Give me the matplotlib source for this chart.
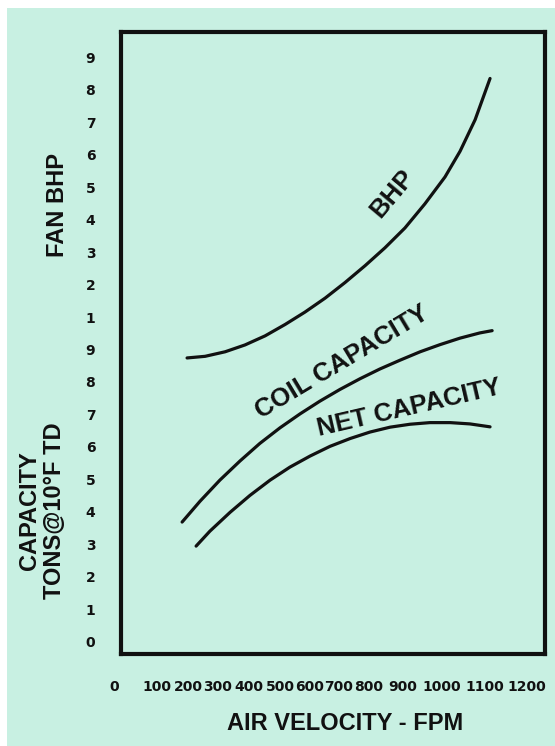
#fan performance chart: fan BHP and coil / net capacity against air velocity

import numpy as np
import matplotlib
matplotlib.use('Agg')
import matplotlib.pyplot as plt
from matplotlib.patches import Rectangle

#data (x in FPM)
bhp_fpm = [197, 257, 323, 387, 452, 517, 583, 652, 720, 787, 847, 905, 956, 1007, 1042, 1077, 1112]
bhp = [-0.26, -0.21, -0.07, 0.14, 0.42, 0.77, 1.15, 1.58, 2.06, 2.58, 3.13, 3.74, 4.48, 5.31,
       6.10, 7.07, 8.34]

coil_fpm = [181, 240, 306, 371, 435, 500, 567, 634, 703, 770, 832, 891, 944, 995, 1042, 1088, 1117]
coil_tons = [3.69, 4.33, 4.98, 5.57, 6.11, 6.59, 7.02, 7.41, 7.77, 8.10, 8.40, 8.67, 8.93, 9.15,
             9.35, 9.51, 9.58]

net_fpm = [227, 273, 339, 403, 468, 533, 600, 669, 737, 803, 862, 918, 969, 1019, 1065, 1112]
net_tons = [2.95, 3.41, 3.99, 4.51, 4.98, 5.38, 5.72, 6.02, 6.26, 6.46, 6.61, 6.70, 6.75, 6.75,
            6.71, 6.62]

xtick_vals = list(range(0, 1300, 100))
ytick_labels = [str(i) for i in range(10)] + [str(i) for i in range(1, 10)]
bhp_offset = 9  #the BHP scale sits on top of the capacity scale

#the x labels are hand lettered and not evenly spaced, so map them piecewise (pixels)
tick_px = [114, 157, 188, 218, 249, 280, 310, 339, 369, 403, 442, 485, 527]
ext_vals = np.array([-1000] + xtick_vals + [2200], dtype=float)
ext_px = np.array([114 - 430] + tick_px + [527 + 420], dtype=float)

def fwd(v):
    return np.interp(v, ext_vals, ext_px)

def inv(p):
    return np.interp(p, ext_px, ext_vals)

bg = '#c8f0e2'
ink = '#111111'

fig = plt.figure(figsize=(5.55, 7.46), dpi=100, facecolor='white')
#green card (image is cropped with a thin white strip on top and left)
fig.patches.append(Rectangle((7/555, 0), 548/555, 738/746, transform=fig.transFigure,
                             facecolor=bg, edgecolor='none', zorder=-10))

ax = fig.add_axes([121/555, 92/746, 424/555, 622/746])
ax.set_facecolor(bg)
ax.set_xscale('function', functions=(fwd, inv))
ax.set_xlim(inv(121), inv(545))
ax.set_ylim(-0.37, 18.77)

lw = 2.3
ax.plot(bhp_fpm, np.array(bhp) + bhp_offset, color=ink, lw=lw, solid_capstyle='round')
ax.plot(coil_fpm, coil_tons, color=ink, lw=lw, solid_capstyle='round')
ax.plot(net_fpm, net_tons, color=ink, lw=lw, solid_capstyle='round')

for s in ax.spines.values():
    s.set_linewidth(3.0)
    s.set_color(ink)

#y ticks: capacity 0-9 then BHP 1-9
ax.set_yticks(range(19))
ax.set_yticklabels(ytick_labels, fontsize=10, fontweight='bold', family='DejaVu Sans')
ax.tick_params(axis='y', length=0, pad=18.5, colors=ink)

#x tick labels (0 sits left of the frame, so write them as text)
ax.set_xticks([])
for v in xtick_vals:
    ax.text(v, -0.0530, str(v), transform=ax.get_xaxis_transform(), ha='center', va='center',
            fontsize=10, fontweight='bold', family='DejaVu Sans', color=ink, clip_on=False)

#curve labels
lab = dict(fontsize=18.5, fontweight='bold', family='Liberation Sans', color=ink,
           ha='center', va='center', rotation_mode='anchor')
ax.text(868, 13.8, 'BHP', rotation=50, **lab)
ax.text(710, 8.62, 'COIL CAPACITY', rotation=31, **lab)
ax.text(915, 7.2, 'NET CAPACITY', rotation=13, **lab)

#axis titles
tit = dict(fontsize=17, fontweight='bold', family='Liberation Sans', color=ink,
           ha='center', va='center')
fig.text(57/555, 1 - 205/746, 'FAN BHP', rotation=90, **tit)
fig.text(42/555, 1 - 511/746, 'CAPACITY\nTONS@10°F TD', rotation=90, linespacing=1.1, **tit)
fig.text(345/555, 1 - 724/746, 'AIR VELOCITY - FPM', **tit)

plt.savefig('out.png', dpi=100, facecolor='white')
